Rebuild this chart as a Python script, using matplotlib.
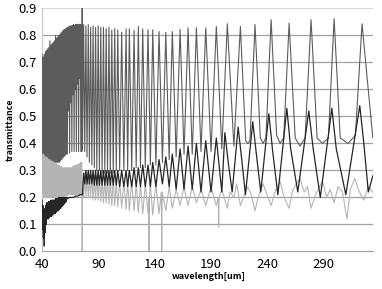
import matplotlib
matplotlib.use("Agg")
import matplotlib.pyplot as plt

plt.rcParams['font.family'] = ['Noto Sans CJK JP', 'DejaVu Sans']

# series A (grey, tall fringes) - peaks / troughs
wl_a = [40.0, 40.5, 41.0, 41.5, 42.0, 42.5, 43.0, 43.5, 44.0, 44.5,
        45.0, 45.5, 46.0, 46.5, 47.0, 47.5, 48.0, 48.5, 49.0, 49.5,
        50.0, 50.5, 51.0, 51.5, 52.0, 52.5, 53.0, 53.5, 54.0, 54.5,
        55.0, 55.5, 56.0, 56.5, 57.0, 57.5, 58.0, 58.5, 59.0, 59.5,
        60.0, 60.5, 61.0, 61.5, 62.0, 62.5, 63.0, 63.5, 64.0, 64.5,
        65.0, 65.5, 66.0, 66.5, 67.0, 67.5, 68.0, 68.5, 69.0, 69.5,
        70.0, 70.5, 71.0, 71.5, 72.0, 72.5, 73.0, 73.5, 74.0, 74.5,
        75.0, 75.4, 75.7, 76.0, 77.0, 78.0, 79.0, 80.0, 81.1, 82.1,
        83.2, 84.3, 85.4, 86.5, 87.6, 88.7, 89.9, 91.0, 92.2, 93.4,
        94.6, 95.8, 97.0, 98.2, 99.5, 100.7, 102.0, 103.3, 104.6, 106.0,
        107.3, 109.0, 110.8, 112.7, 114.7, 116.1, 117.6, 119.7, 121.8, 123.7,
        125.6, 127.5, 129.5, 131.8, 134.2, 136.3, 138.4, 141.2, 144.0, 147.0,
        150.0, 153.0, 155.8, 159.2, 162.7, 166.2, 169.8, 173.5, 177.2, 181.3,
        185.5, 190.2, 194.9, 199.8, 204.7, 210.5, 216.3, 221.0, 222.8, 224.8,
        229.3, 234.0, 236.4, 239.0, 243.6, 248.5, 251.6, 254.8, 259.6, 265.0,
        269.3, 273.8, 279.1, 284.5, 289.3, 294.5, 299.6, 305.0, 312.0, 318.5,
        324.4, 334.0]
t_a = [0.73, 0.33, 0.72, 0.33, 0.73, 0.33, 0.74, 0.33, 0.745, 0.33,
       0.75, 0.33, 0.755, 0.33, 0.78, 0.33, 0.765, 0.33, 0.77, 0.33,
       0.775, 0.33, 0.78, 0.33, 0.80, 0.33, 0.79, 0.33, 0.795, 0.33,
       0.80, 0.33, 0.805, 0.335, 0.81, 0.34, 0.815, 0.345, 0.82, 0.35,
       0.822, 0.355, 0.825, 0.36, 0.828, 0.36, 0.83, 0.52, 0.832, 0.365,
       0.835, 0.55, 0.835, 0.37, 0.837, 0.58, 0.84, 0.37, 0.838, 0.60,
       0.84, 0.37, 0.84, 0.62, 0.842, 0.37, 0.84, 0.64, 0.84, 0.37,
       0.84, 0.37, 0.90, 0.38, 0.84, 0.37, 0.835, 0.35, 0.84, 0.33,
       0.83, 0.32, 0.835, 0.31, 0.83, 0.30, 0.835, 0.30, 0.83, 0.29,
       0.83, 0.29, 0.825, 0.29, 0.83, 0.29, 0.82, 0.29, 0.825, 0.30,
       0.82, 0.30, 0.812, 0.30, 0.824, 0.30, 0.824, 0.30, 0.818, 0.31,
       0.833, 0.31, 0.824, 0.31, 0.821, 0.32, 0.821, 0.32, 0.814, 0.33,
       0.811, 0.34, 0.814, 0.35, 0.822, 0.36, 0.828, 0.36, 0.828, 0.37,
       0.828, 0.37, 0.833, 0.38, 0.843, 0.39, 0.833, 0.41, 0.40, 0.41,
       0.84, 0.42, 0.40, 0.42, 0.858, 0.43, 0.40, 0.42, 0.845, 0.42,
       0.39, 0.42, 0.858, 0.42, 0.40, 0.42, 0.862, 0.42, 0.40, 0.43,
       0.843, 0.42]

# series B (black)
wl_b = [40.0, 40.4, 40.8, 41.2, 41.6, 42.0, 42.4, 42.8, 43.2, 43.6,
        44.0, 44.5, 45.0, 45.5, 46.0, 46.5, 47.0, 47.5, 48.0, 48.5,
        49.0, 49.5, 50.0, 50.5, 51.0, 51.5, 52.0, 52.5, 53.0, 53.5,
        54.0, 54.5, 55.0, 55.5, 56.0, 56.5, 57.0, 57.5, 58.0, 58.5,
        59.0, 59.5, 60.0, 60.5, 61.0, 61.5, 62.0, 63.0, 64.0, 66.0,
        68.0, 70.0, 72.0, 74.0, 76.0, 77.0, 78.0, 79.0, 80.0, 81.1,
        82.1, 83.2, 84.3, 85.4, 86.5, 87.6, 88.7, 89.9, 91.0, 92.2,
        93.4, 94.6, 95.8, 97.0, 98.2, 99.5, 100.7, 102.0, 103.3, 104.6,
        106.0, 107.3, 109.0, 110.8, 112.7, 114.7, 116.1, 117.6, 119.7, 121.8,
        123.7, 125.6, 127.5, 129.5, 131.8, 134.2, 136.3, 138.4, 141.2, 144.0,
        147.0, 150.0, 153.0, 155.8, 159.2, 162.7, 166.2, 169.8,
        173.5, 177.2, 181.3, 185.5, 190.2, 194.9, 199.8, 202.5, 205.5, 209.0,
        214.3, 217.5, 220.8, 227.3, 230.5, 234.4, 241.6, 245.0, 249.6, 257.6,
        261.0, 267.3, 277.1, 281.0, 287.3, 297.6, 301.5, 310.0, 322.4, 326.0,
        330.0, 334.0]
t_b = [0.19, 0.08, 0.17, 0.05, 0.16, 0.02, 0.15, 0.07, 0.17, 0.10,
       0.18, 0.12, 0.18, 0.12, 0.185, 0.125, 0.185, 0.13, 0.19, 0.13,
       0.19, 0.135, 0.19, 0.14, 0.19, 0.14, 0.195, 0.145, 0.195, 0.15,
       0.195, 0.15, 0.20, 0.155, 0.20, 0.16, 0.20, 0.165, 0.20, 0.17,
       0.20, 0.175, 0.20, 0.18, 0.20, 0.185, 0.20, 0.195, 0.20, 0.20,
       0.20, 0.205, 0.205, 0.21, 0.21, 0.29, 0.25, 0.30, 0.25, 0.30,
       0.25, 0.30, 0.25, 0.30, 0.245, 0.30, 0.245, 0.30, 0.245, 0.30,
       0.245, 0.30, 0.245, 0.30, 0.245, 0.30, 0.245, 0.30, 0.245, 0.30,
       0.245, 0.30, 0.24, 0.30, 0.24, 0.30, 0.24, 0.30, 0.24, 0.31,
       0.24, 0.31, 0.24, 0.32, 0.24, 0.32, 0.24, 0.33, 0.24, 0.34,
       0.25, 0.35, 0.24, 0.36, 0.23, 0.38, 0.23, 0.39,
       0.23, 0.40, 0.22, 0.41, 0.22, 0.42, 0.22, 0.44, 0.33, 0.22,
       0.46, 0.34, 0.21, 0.48, 0.36, 0.22, 0.51, 0.37, 0.21, 0.53,
       0.38, 0.22, 0.52, 0.38, 0.20, 0.53, 0.38, 0.21, 0.54, 0.40,
       0.22, 0.28]

# series C (light grey)
wl_c = [40.2, 40.7, 41.2, 41.7, 42.2, 42.7, 43.2, 43.7, 44.2, 44.7,
        45.2, 45.7, 46.2, 46.7, 47.2, 47.7, 48.2, 48.7, 49.2, 49.7,
        50.2, 50.7, 51.2, 51.7, 52.2, 52.7, 53.2, 53.7, 54.2, 54.7,
        55.2, 55.7, 56.2, 56.7, 57.2, 57.7, 58.2, 58.7, 59.2, 59.7,
        60.2, 60.7, 61.2, 61.7, 62.2, 62.7, 63.2, 63.7, 64.2, 64.7,
        65.2, 65.7, 66.2, 66.7, 67.2, 67.7, 68.2, 68.7, 69.2, 69.7,
        70.2, 70.7, 71.2, 71.7, 72.2, 72.7, 73.2, 73.7, 74.2, 74.7,
        75.2, 75.6, 75.7, 75.8, 77.0, 78.0, 79.0, 80.0, 81.1, 82.1,
        83.2, 84.3, 85.4, 86.5, 87.6, 88.7, 89.9, 91.0, 92.2, 93.4,
        94.6, 95.8, 97.0, 98.2, 99.5, 100.7, 102.0, 103.3, 104.6, 106.0,
        107.3, 109.0, 110.8, 112.7, 114.7, 116.1, 117.6, 119.7, 121.8, 123.7,
        125.6, 127.5, 129.5, 131.8, 134.2, 134.8, 135.1, 135.4, 136.3, 138.4,
        141.2, 144.0, 146.0, 146.4, 146.8, 150.0, 153.0, 155.8, 159.2, 162.7,
        166.2, 169.8,
        173.5, 177.2, 181.3, 185.5, 190.2, 194.9, 196.6, 197.0, 197.4, 199.8,
        204.7, 207.0, 210.5, 213.0, 216.3, 219.0, 222.8, 226.0, 229.3, 232.0,
        236.4, 240.0, 243.6, 247.0, 251.6, 255.0, 259.6, 263.0, 269.3, 273.0,
        276.0, 279.1, 283.0, 289.3, 293.0, 296.0, 299.6, 303.0, 307.0, 311.0,
        314.0, 318.0, 322.0, 326.0, 330.0, 334.0]
t_c = [0.36, 0.21, 0.36, 0.20, 0.355, 0.20, 0.35, 0.20, 0.35, 0.20,
       0.345, 0.20, 0.34, 0.20, 0.34, 0.20, 0.335, 0.20, 0.335, 0.20,
       0.33, 0.20, 0.33, 0.20, 0.325, 0.20, 0.325, 0.20, 0.32, 0.20,
       0.32, 0.20, 0.315, 0.20, 0.315, 0.20, 0.31, 0.20, 0.31, 0.20,
       0.31, 0.205, 0.31, 0.205, 0.31, 0.205, 0.31, 0.21, 0.31, 0.21,
       0.31, 0.21, 0.31, 0.21, 0.315, 0.21, 0.315, 0.21, 0.32, 0.21,
       0.32, 0.21, 0.32, 0.21, 0.325, 0.21, 0.325, 0.21, 0.33, 0.21,
       0.33, 0.25, 0.0, 0.25, 0.20, 0.29, 0.20, 0.29, 0.20, 0.28,
       0.20, 0.28, 0.19, 0.28, 0.19, 0.28, 0.19, 0.28, 0.185, 0.27,
       0.18, 0.27, 0.18, 0.27, 0.175, 0.27, 0.17, 0.27, 0.17, 0.26,
       0.165, 0.26, 0.16, 0.26, 0.155, 0.26, 0.15, 0.26, 0.15, 0.25,
       0.145, 0.25, 0.14, 0.25, 0.14, 0.20, 0.0, 0.20, 0.25, 0.135,
       0.25, 0.14, 0.22, 0.0, 0.22, 0.15, 0.24, 0.16, 0.23, 0.17,
       0.24, 0.17,
       0.24, 0.18, 0.23, 0.17, 0.24, 0.17, 0.20, 0.09, 0.20, 0.23,
       0.16, 0.22, 0.20, 0.25, 0.17, 0.20, 0.24, 0.21, 0.15, 0.20,
       0.25, 0.21, 0.17, 0.22, 0.26, 0.20, 0.16, 0.23, 0.27, 0.22,
       0.24, 0.16, 0.21, 0.26, 0.20, 0.23, 0.18, 0.24, 0.22, 0.12,
       0.23, 0.27, 0.22, 0.19, 0.24, 0.22]

x_ticks = [40, 90, 140, 190, 240, 290]
y_ticks = [0.0, 0.1, 0.2, 0.3, 0.4, 0.5, 0.6, 0.7, 0.8, 0.9]

fig = plt.figure(figsize=(3.82, 2.89), dpi=100)
ax = fig.add_axes([0.110, 0.130, 0.866, 0.841])

ax.plot(wl_a, t_a, color='#5c5c5c', lw=0.8, zorder=3)
ax.plot(wl_c, t_c, color='#b4b4b4', lw=0.8, zorder=4)
ax.plot(wl_b, t_b, color='#262626', lw=0.9, zorder=5)

ax.set_xlim(40, 334)
ax.set_ylim(0, 0.9)
ax.set_xticks(x_ticks)
ax.set_yticks(y_ticks)
ax.set_yticklabels([f'{v:.1f}' for v in y_ticks])
ax.tick_params(length=0, labelsize=9.5, pad=4, colors='black')
ax.tick_params(axis='x', pad=5)

for v in y_ticks[1:-1]:
    ax.axhline(v, color='#a0a0a0', lw=0.9, zorder=1)
ax.axhline(0.9, color='#d8d8d8', lw=0.9, zorder=1)

for s in ['top', 'right']:
    ax.spines[s].set_visible(False)
ax.spines['left'].set_color('#c8c8c8')
ax.spines['bottom'].set_color('#a0a0a0')

fig.text(0.026, 0.55, 'transmittance', rotation=90, ha='center', va='center',
         fontsize=6.3, fontweight='bold')
fig.text(0.546, 0.042, 'wavelength[um]', ha='center', va='center',
         fontsize=6.5, fontweight='bold')

fig.savefig('out.png', dpi=100)
